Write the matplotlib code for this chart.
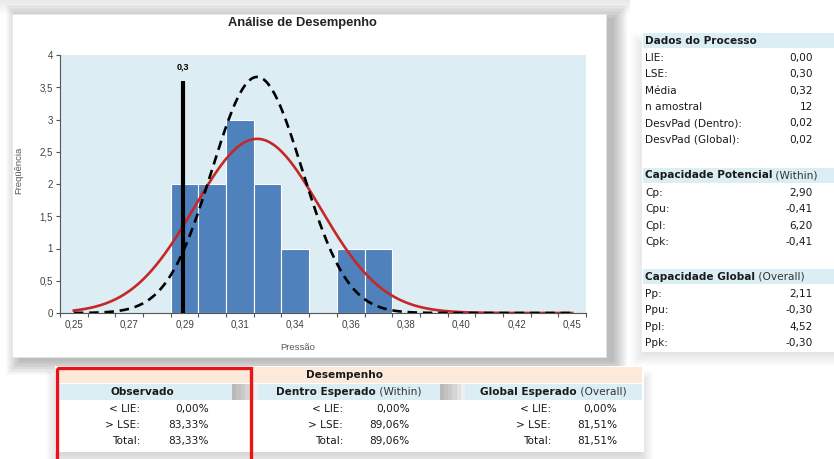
import numpy as np
import matplotlib
matplotlib.use("Agg")
from matplotlib import pyplot as plt
from matplotlib.patches import Rectangle

# histograma (19 classes, rotulo a cada duas)
freq = [0, 0, 0, 0, 2, 2, 3, 2, 1, 0, 1, 1, 0, 0, 0, 0, 0, 0, 0]
xlabels = ["0,25", "0,27", "0,29", "0,31", "0,34", "0,36", "0,38", "0,40", "0,42", "0,45"]
ylabels = ["0", "0,5", "1", "1,5", "2", "2,5", "3", "3,5", "4"]

# linha do LSE (posicao em classes) e curvas normais
lse_pos, lse_alt, lse_txt = 3.95, 3.6, "0,3"
media_cls = 6.62
global_sd, global_pico = 2.27, 2.70     # vermelha (Overall)
dentro_sd, dentro_pico = 1.63, 3.66     # tracejada (Within)

# tabelas
dados_rot = ["LIE:", "LSE:", "Média", "n amostral", "DesvPad (Dentro):", "DesvPad (Global):"]
dados_val = ["0,00", "0,30", "0,32", "12", "0,02", "0,02"]
pot_rot = ["Cp:", "Cpu:", "Cpl:", "Cpk:"]
pot_val = ["2,90", "-0,41", "6,20", "-0,41"]
glob_rot = ["Pp:", "Ppu:", "Ppl:", "Ppk:"]
glob_val = ["2,11", "-0,30", "4,52", "-0,30"]
des_rot = ["< LIE:", "> LSE:", "Total:"]
obs_val = ["0,00%", "83,33%", "83,33%"]
dentro_val = ["0,00%", "89,06%", "89,06%"]
global_val = ["0,00%", "81,51%", "81,51%"]

W, H = 834, 459
fig = plt.figure(figsize=(W / 100, H / 100), dpi=100)
fig.patch.set_facecolor("white")

# camada de fundo em pixels
bg = fig.add_axes([0, 0, 1, 1], zorder=0)
bg.set_xlim(0, W)
bg.set_ylim(H, 0)
bg.axis("off")

def sombra(x0, y0, x1, y1, dx=4, dy=4, n=10, passo=1.5, a=0.03):
    for i in range(n):
        e = i * passo
        bg.add_patch(Rectangle((x0 + dx - e, y0 + dy - e), x1 - x0 + 2 * e, y1 - y0 + 2 * e,
                               facecolor="black", edgecolor="none", alpha=a))

# faixa cinza no topo
for i in range(10):
    bg.add_patch(Rectangle((0, 0), 630, 14 - i * 1.4, facecolor="#d8d8d8", edgecolor="none", alpha=0.06))

sombra(12, 14, 606, 357, dx=8, dy=4, a=0.028)
bg.add_patch(Rectangle((12, 14), 594, 343, facecolor="white", edgecolor="#e6e6e6", lw=0.5))

sombra(645, 45, 834, 350, dx=0, dy=2, a=0.012)
bg.add_patch(Rectangle((642, 30), 192, 322, facecolor="white", edgecolor="none"))
sombra(60, 380, 640, 450, dx=0, dy=4, a=0.014)
bg.add_patch(Rectangle((55, 366), 589, 86, facecolor="white", edgecolor="none"))

fonte = ["DejaVu Sans"]
fs = 7.6
cor_txt = "#1a1a1a"

fig.canvas.draw()
rend = fig.canvas.get_renderer()

def misto(x, y, negrito, normal, ha="left"):
    t1 = bg.text(0, y, negrito, fontsize=fs, family=fonte, weight="bold", color=cor_txt, va="center")
    t2 = bg.text(0, y, " " + normal, fontsize=fs, family=fonte, color="#333333", va="center")
    w1 = t1.get_window_extent(rend).width
    w2 = t2.get_window_extent(rend).width
    x0 = x if ha == "left" else x - (w1 + w2) / 2
    t1.set_x(x0)
    t2.set_x(x0 + w1)

# tabela da direita
azul = "#dbeef4"
blocos = [(33, "Dados do Processo", "", dados_rot, dados_val),
          (168, "Capacidade Potencial", "(Within)", pot_rot, pot_val),
          (269, "Capacidade Global", "(Overall)", glob_rot, glob_val)]
for y0, tit, sub, rots, vals in blocos:
    bg.add_patch(Rectangle((643, y0), 191, 15, facecolor=azul, edgecolor="none"))
    if sub:
        misto(645, y0 + 7.5, tit, sub)
    else:
        bg.text(645, y0 + 7.5, tit, fontsize=fs, family=fonte, weight="bold", color=cor_txt, va="center")
    for i, (r, v) in enumerate(zip(rots, vals)):
        yy = y0 + 25 + 16.3 * i
        bg.text(645, yy, r, fontsize=fs, family=fonte, color=cor_txt, va="center")
        bg.text(813, yy, v, fontsize=fs, family=fonte, color=cor_txt, va="center", ha="right")

# tabela de baixo
bg.add_patch(Rectangle((58, 367), 584, 16, facecolor="#fde9d9", edgecolor="none"))
bg.text(345, 375, "Desempenho", fontsize=fs, family=fonte, weight="bold", color=cor_txt, va="center", ha="center")
for gx0, gx1 in [(232, 258), (440, 465)]:
    for i in range(6):
        bg.add_patch(Rectangle((gx0, 384), (gx1 - gx0) * (1 - i / 6), 16, facecolor="#808080",
                               edgecolor="none", alpha=0.12))
colunas = [(58, 232, "Observado", "", 140, 209, obs_val),
           (258, 440, "Dentro Esperado", "(Within)", 343, 410, dentro_val),
           (465, 642, "Global Esperado", "(Overall)", 551, 617, global_val)]
for x0, x1, tit, sub, xr, xv, vals in colunas:
    bg.add_patch(Rectangle((x0, 384), x1 - x0, 16, facecolor=azul, edgecolor="none"))
    if sub:
        misto((x0 + x1) / 2, 392, tit, sub, ha="center")
    else:
        bg.text((x0 + x1) / 2 - 3, 392, tit, fontsize=fs, family=fonte, weight="bold", color=cor_txt,
                va="center", ha="center")
    for i, (r, v) in enumerate(zip(des_rot, vals)):
        yy = 409 + 16 * i
        bg.text(xr, yy, r, fontsize=fs, family=fonte, color=cor_txt, va="center", ha="right")
        bg.text(xv, yy, v, fontsize=fs, family=fonte, color=cor_txt, va="center", ha="right")

bg.add_patch(Rectangle((57, 368), 194, 100, facecolor="none", edgecolor="#e8141b", lw=2.4, clip_on=False))

# grafico
ax = fig.add_axes([60 / W, 1 - 313 / H, 526 / W, 258 / H], zorder=1)
ax.set_facecolor("#dcedf3")
n = len(freq)
idx = np.arange(n)
ax.bar(idx, freq, width=1.0, color="#4f81bd", edgecolor="white", lw=0.8, zorder=2)

xs = np.linspace(0, n - 1, 400)
ax.plot(xs, global_pico * np.exp(-0.5 * ((xs - media_cls) / global_sd) ** 2),
        color="#c62828", lw=1.9, zorder=3)
ax.plot(xs, dentro_pico * np.exp(-0.5 * ((xs - media_cls) / dentro_sd) ** 2),
        color="black", lw=1.9, ls=(0, (3.6, 2.2)), zorder=4)

ax.plot([lse_pos, lse_pos], [0, lse_alt], color="black", lw=3, solid_capstyle="butt", zorder=5)
ax.text(lse_pos, lse_alt + 0.22, lse_txt, fontsize=6.5, weight="bold", family="Liberation Sans",
        ha="center", va="center")

ax.set_xlim(-0.5, n - 0.5)
ax.set_ylim(0, 4)
ax.set_xticks(np.arange(-0.5, n, 1.0))
ax.set_xticklabels([])
ax.set_xticks(idx[::2], minor=True)
ax.set_xticklabels(xlabels, minor=True)
ax.tick_params(axis="x", which="major", length=3, width=0.8, color="#555555", direction="out")
ax.tick_params(axis="x", which="minor", length=0, pad=5, labelsize=7, labelcolor="#404040")
ax.set_yticks(np.arange(0, 4.01, 0.5))
ax.set_yticklabels(ylabels)
ax.tick_params(axis="y", length=3, width=0.8, color="#555555", labelsize=7, labelcolor="#404040", pad=2)
for lab in ax.get_xticklabels(minor=True) + ax.get_yticklabels():
    lab.set_family("Liberation Sans")
for s in ["top", "right"]:
    ax.spines[s].set_visible(False)
for s in ["left", "bottom"]:
    ax.spines[s].set_color("#555555")
    ax.spines[s].set_linewidth(0.8)

fig.text(302 / W, 1 - 23 / H, "Análise de Desempenho", fontsize=9.3, weight="bold",
         family="Liberation Sans", ha="center", va="center", color="#222222")
fig.text(298 / W, 1 - 348 / H, "Pressão", fontsize=6.8, family="Liberation Sans",
         ha="center", va="center", color="#595959")
fig.text(19 / W, 1 - 170 / H, "Freqüência", fontsize=6.8, family="Liberation Sans",
         ha="center", va="center", rotation=90, color="#595959")

fig.savefig("out.png", dpi=100)
